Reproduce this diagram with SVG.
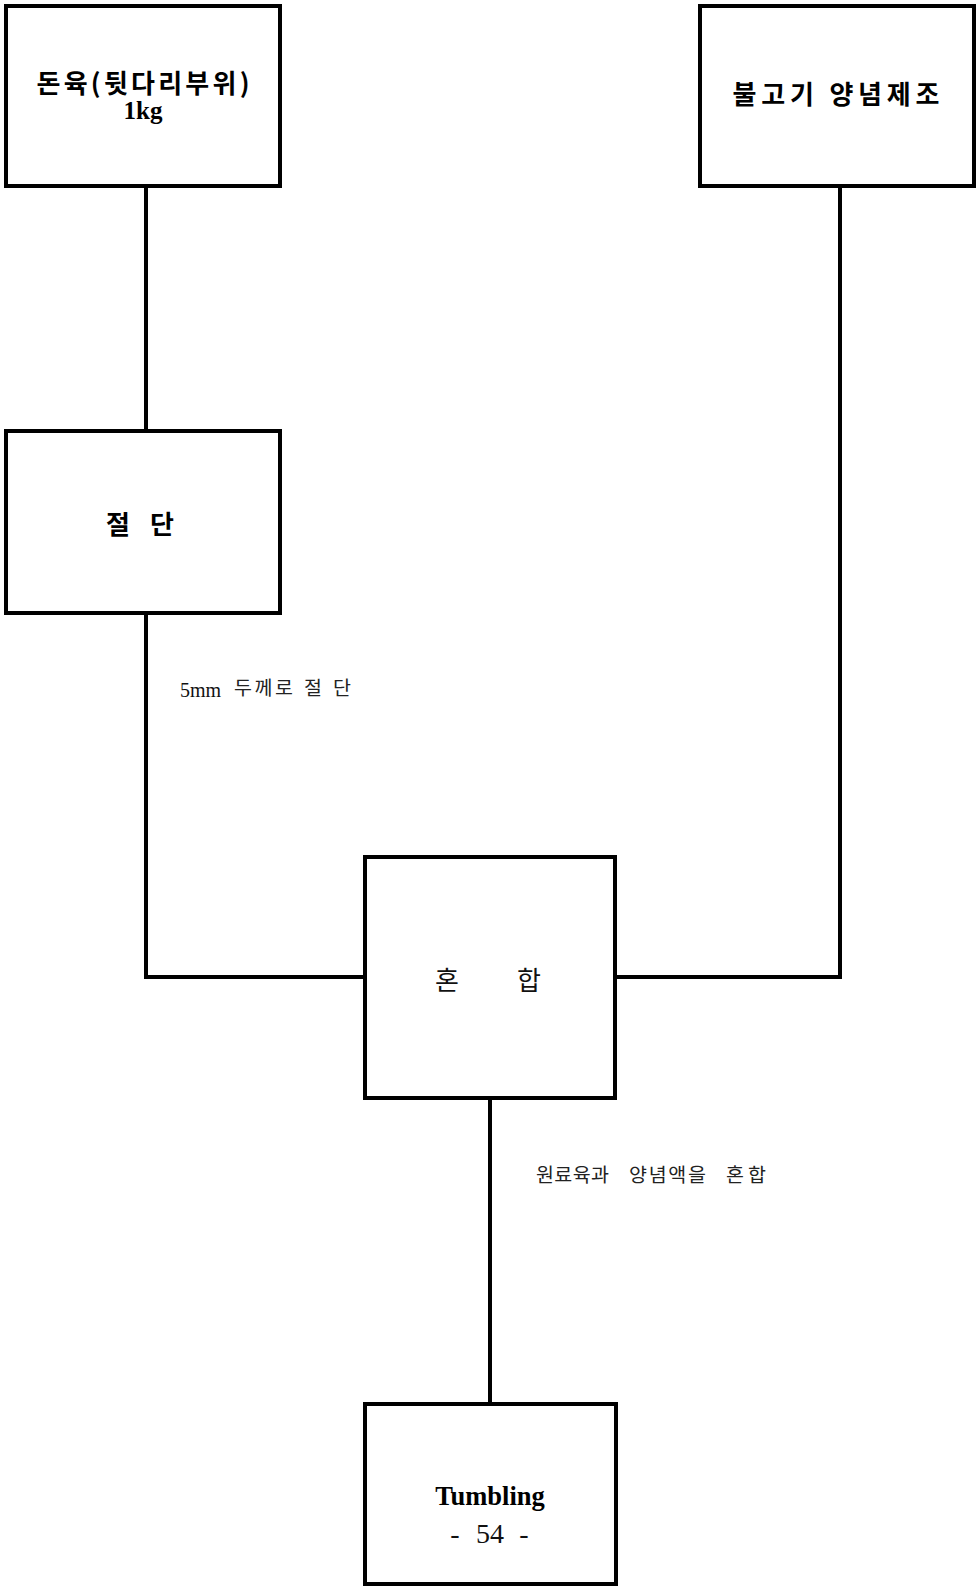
<svg xmlns="http://www.w3.org/2000/svg" width="976" height="1586" viewBox="0 0 976 1586">
<style>
.box{fill:#fff;stroke:#000;stroke-width:4}
.con{fill:none;stroke:#000;stroke-width:4}
.kb{font-family:"Noto Sans CJK KR","Liberation Serif",sans-serif;font-weight:bold;fill:#000}
.kn{font-family:"Noto Sans CJK KR",sans-serif;font-weight:normal;fill:#111}
.sb{font-family:"Liberation Serif",serif;font-weight:bold;fill:#000}
.sn{font-family:"Liberation Serif",serif;font-weight:normal;fill:#111}
.lbl{font-family:"Noto Sans CJK KR",sans-serif;font-size:19.5px;fill:#222}
</style>
<rect width="976" height="1586" fill="#fff"/>
<g id="connectors">
<path class="con" d="M146,186 V431"/>
<path class="con" d="M146,613 V977 H365"/>
<path class="con" d="M840,186 V977 H615"/>
<path class="con" d="M490,1098 V1404"/>
</g>
<g id="node-pork">
<rect class="box" x="6" y="6" width="274" height="180"/>
<text class="kb" x="143" y="93" font-size="26" text-anchor="middle" textLength="213" lengthAdjust="spacing">돈육(뒷다리부위)</text>
<text class="sb" x="143" y="119" font-size="25" text-anchor="middle">1kg</text>
</g>
<g id="node-sauce">
<rect class="box" x="700" y="6" width="274" height="180"/>
<text class="kb" x="836" y="104" font-size="26" text-anchor="middle" textLength="207" lengthAdjust="spacing">불고기 양념제조</text>
</g>
<g id="node-cut">
<rect class="box" x="6" y="431" width="274" height="182"/>
<text class="kb" x="106" y="534" font-size="26">절</text>
<text class="kb" x="150" y="534" font-size="26">단</text>
</g>
<g id="node-mix">
<rect class="box" x="365" y="857" width="250" height="241"/>
<text class="kn" x="435" y="990" font-size="26">혼</text>
<text class="kn" x="517" y="990" font-size="26">합</text>
</g>
<g id="node-tumbling">
<rect class="box" x="365" y="1404" width="251" height="180"/>
<text class="sb" x="490" y="1505" font-size="26.5" text-anchor="middle">Tumbling</text>
<text class="sn" x="455" y="1543" font-size="28" text-anchor="middle">-</text>
<text class="sn" x="490" y="1543" font-size="28" text-anchor="middle">54</text>
<text class="sn" x="524" y="1543" font-size="28" text-anchor="middle">-</text>
</g>
<g id="label-cut">
<text class="sn" x="180" y="697" font-size="20">5mm</text>
<text class="lbl" x="234" y="695" textLength="59" lengthAdjust="spacing">두께로</text>
<text class="lbl" x="304" y="695" textLength="47" lengthAdjust="spacing">절단</text>
</g>
<g id="label-mix">
<text class="lbl" x="536" y="1182" textLength="73" lengthAdjust="spacing">원료육과</text>
<text class="lbl" x="629" y="1182" textLength="77" lengthAdjust="spacing">양념액을</text>
<text class="lbl" x="726" y="1182" textLength="40" lengthAdjust="spacing">혼합</text>
</g>
</svg>
